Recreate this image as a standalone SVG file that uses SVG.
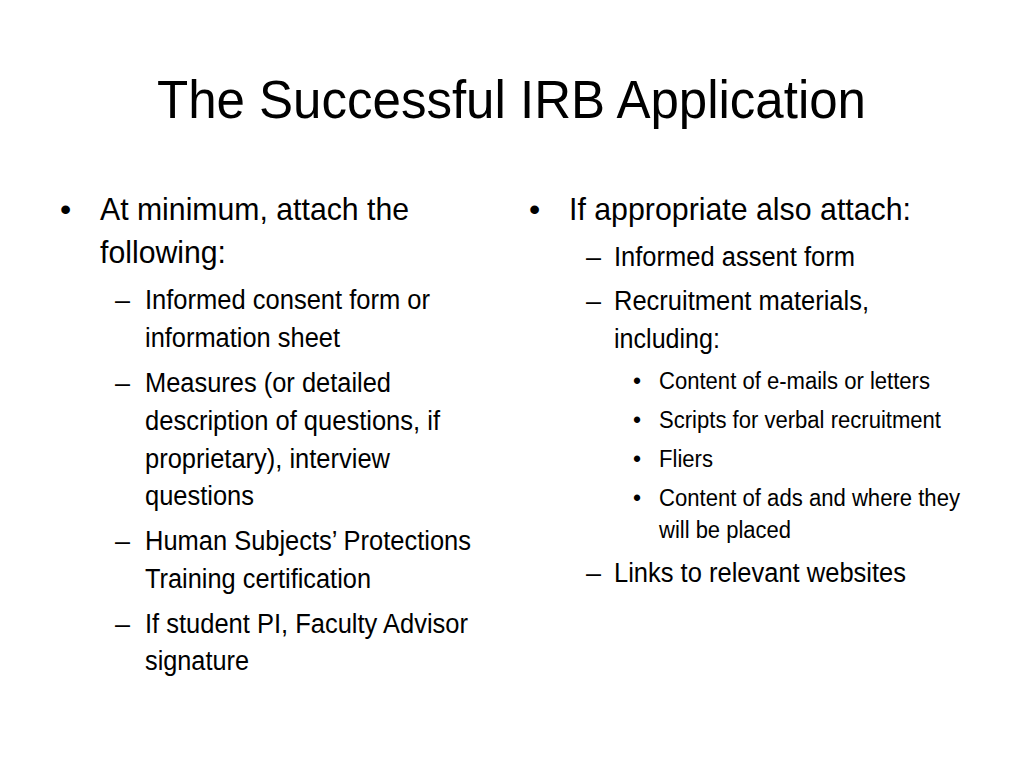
<svg xmlns="http://www.w3.org/2000/svg" width="1024" height="768" viewBox="0 0 1024 768">
<style>
text{font-family:"Liberation Sans",Arial,sans-serif;fill:#000}
.t{font-size:54px}.l1{font-size:32px}.l2{font-size:27px}.l3{font-size:23px}
</style>
<rect width="1024" height="768" fill="#fff"/>
<text class="t" x="157" y="118" textLength="709" lengthAdjust="spacingAndGlyphs">The Successful IRB Application</text>
<g id="left">
<text class="l1" x="60" y="220">•</text>
<text class="l1" x="100" y="220" textLength="309" lengthAdjust="spacingAndGlyphs">At minimum, attach the</text>
<text class="l1" x="100" y="263" textLength="126" lengthAdjust="spacingAndGlyphs">following:</text>
<text class="l2" x="115" y="309">–</text>
<text class="l2" x="145" y="309" textLength="285" lengthAdjust="spacingAndGlyphs">Informed consent form or</text>
<text class="l2" x="145" y="347" textLength="195" lengthAdjust="spacingAndGlyphs">information sheet</text>
<text class="l2" x="115" y="392">–</text>
<text class="l2" x="145" y="392" textLength="246" lengthAdjust="spacingAndGlyphs">Measures (or detailed</text>
<text class="l2" x="145" y="430" textLength="295" lengthAdjust="spacingAndGlyphs">description of questions, if</text>
<text class="l2" x="145" y="468" textLength="245" lengthAdjust="spacingAndGlyphs">proprietary), interview</text>
<text class="l2" x="145" y="505" textLength="109" lengthAdjust="spacingAndGlyphs">questions</text>
<text class="l2" x="115" y="550">–</text>
<text class="l2" x="145" y="550" textLength="326" lengthAdjust="spacingAndGlyphs">Human Subjects’ Protections</text>
<text class="l2" x="145" y="588" textLength="226" lengthAdjust="spacingAndGlyphs">Training certification</text>
<text class="l2" x="115" y="633">–</text>
<text class="l2" x="145" y="633" textLength="323" lengthAdjust="spacingAndGlyphs">If student PI, Faculty Advisor</text>
<text class="l2" x="145" y="670" textLength="104" lengthAdjust="spacingAndGlyphs">signature</text>
</g>
<g id="right">
<text class="l1" x="529" y="220">•</text>
<text class="l1" x="569" y="220" textLength="342" lengthAdjust="spacingAndGlyphs">If appropriate also attach:</text>
<text class="l2" x="586" y="266">–</text>
<text class="l2" x="614" y="266" textLength="241" lengthAdjust="spacingAndGlyphs">Informed assent form</text>
<text class="l2" x="586" y="310">–</text>
<text class="l2" x="614" y="310" textLength="255" lengthAdjust="spacingAndGlyphs">Recruitment materials,</text>
<text class="l2" x="614" y="348" textLength="106" lengthAdjust="spacingAndGlyphs">including:</text>
<text class="l3" x="633" y="389">•</text>
<text class="l3" x="659" y="389" textLength="271" lengthAdjust="spacingAndGlyphs">Content of e-mails or letters</text>
<text class="l3" x="633" y="428">•</text>
<text class="l3" x="659" y="428" textLength="282" lengthAdjust="spacingAndGlyphs">Scripts for verbal recruitment</text>
<text class="l3" x="633" y="467">•</text>
<text class="l3" x="659" y="467" textLength="54" lengthAdjust="spacingAndGlyphs">Fliers</text>
<text class="l3" x="633" y="506">•</text>
<text class="l3" x="659" y="506" textLength="301" lengthAdjust="spacingAndGlyphs">Content of ads and where they</text>
<text class="l3" x="659" y="538" textLength="132" lengthAdjust="spacingAndGlyphs">will be placed</text>
<text class="l2" x="586" y="582">–</text>
<text class="l2" x="614" y="582" textLength="292" lengthAdjust="spacingAndGlyphs">Links to relevant websites</text>
</g>
</svg>
